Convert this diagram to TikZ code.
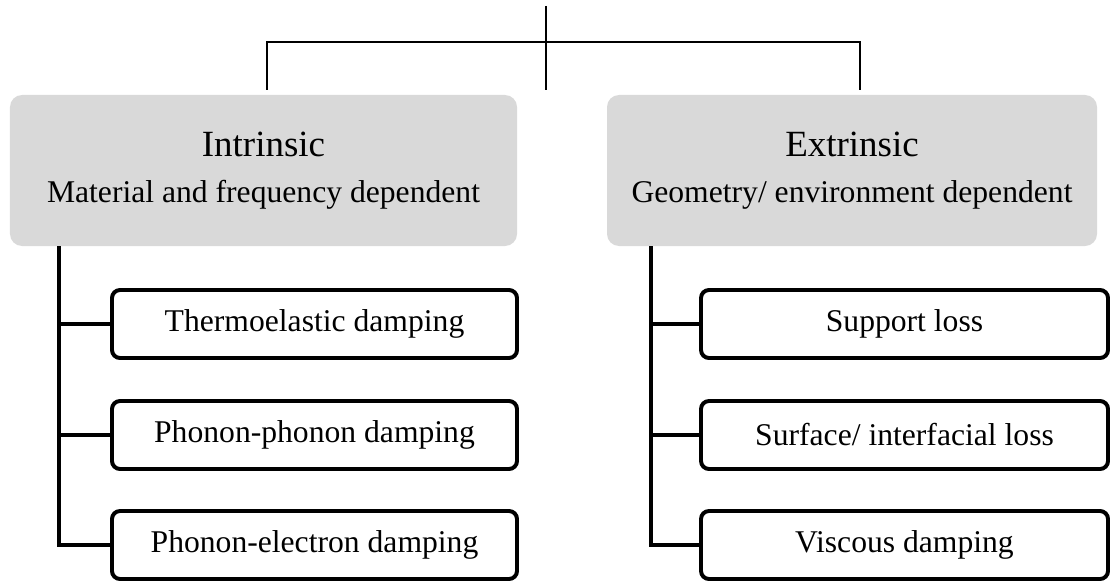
\documentclass[tikz,border=0pt]{standalone}
\usepackage{fontspec}
\setmainfont{Liberation Serif}
\usepackage{tikz}
\definecolor{hdgray}{HTML}{D9D9D9}
\tikzset{
    headbox/.style={rectangle, rounded corners=0.3cm, fill=hdgray, draw=none,
    	minimum height=3.775cm, inner sep=0pt, align=center,
    	font=\fontsize{22.5}{33}\selectfont}
}
\tikzset{
    kindbox/.style={rectangle, rounded corners=0.2cm, draw, line width=2.8pt,
    	minimum height=1.7cm, inner sep=0pt, font=\fontsize{22.5}{27}\selectfont}
}
\tikzset{
    thin link/.style={line width=1.2pt},
    thick link/.style={line width=3pt}
}
\newcommand{\headtitle}[1]{{\fontsize{26.3}{33}\selectfont #1}}

\begin{document}
\begin{tikzpicture}
	\useasboundingbox (0,0) rectangle (27.8,-14.55);

	\node (intr) [headbox, minimum width=12.675cm] at (6.5875cm, -4.2625cm)
		{\headtitle{Intrinsic}\\Material and frequency dependent};
	\node (extr) [headbox, minimum width=12.25cm] at (21.3cm, -4.2625cm)
		{\headtitle{Extrinsic}\\Geometry/ environment dependent};

	\node (ted) [kindbox, minimum width=10.125cm] at (7.8625cm, -8.1cm) {Thermoelastic damping};
	\node (ppd) [kindbox, minimum width=10.125cm] at (7.8625cm, -10.875cm) {Phonon-phonon damping};
	\node (ped) [kindbox, minimum width=10.125cm] at (7.8625cm, -13.625cm) {Phonon-electron damping};
	\node (sup) [kindbox, minimum width=10.175cm] at (22.6125cm, -8.1cm) {Support loss};
	\node (sil) [kindbox, minimum width=10.175cm] at (22.6125cm, -10.875cm) {Surface/ interfacial loss};
	\node (vsd) [kindbox, minimum width=10.175cm] at (22.6125cm, -13.625cm) {Viscous damping};

	\coordinate (root) at (13.65cm, -0.15cm);
	\coordinate (rootend) at (13.65cm, -2.25cm);
	\coordinate (ldrop) at (6.675cm, -2.25cm);
	\coordinate (rdrop) at (21.5cm, -2.25cm);
	\coordinate (ltop) at (1.475cm, -6.15cm);
	\coordinate (rtop) at (16.275cm, -6.15cm);

	\draw [thin link] (root) -- (rootend);
	\draw [thin link] (ldrop) -- ++(0,1.2) -| (rdrop);

	\draw [thick link] (ltop) |- (ped.west);
	\draw [thick link] (ltop |- ted.west) -- (ted.west);
	\draw [thick link] (ltop |- ppd.west) -- (ppd.west);
	\draw [thick link] (rtop) |- (vsd.west);
	\draw [thick link] (rtop |- sup.west) -- (sup.west);
	\draw [thick link] (rtop |- sil.west) -- (sil.west);
\end{tikzpicture}
\end{document}
